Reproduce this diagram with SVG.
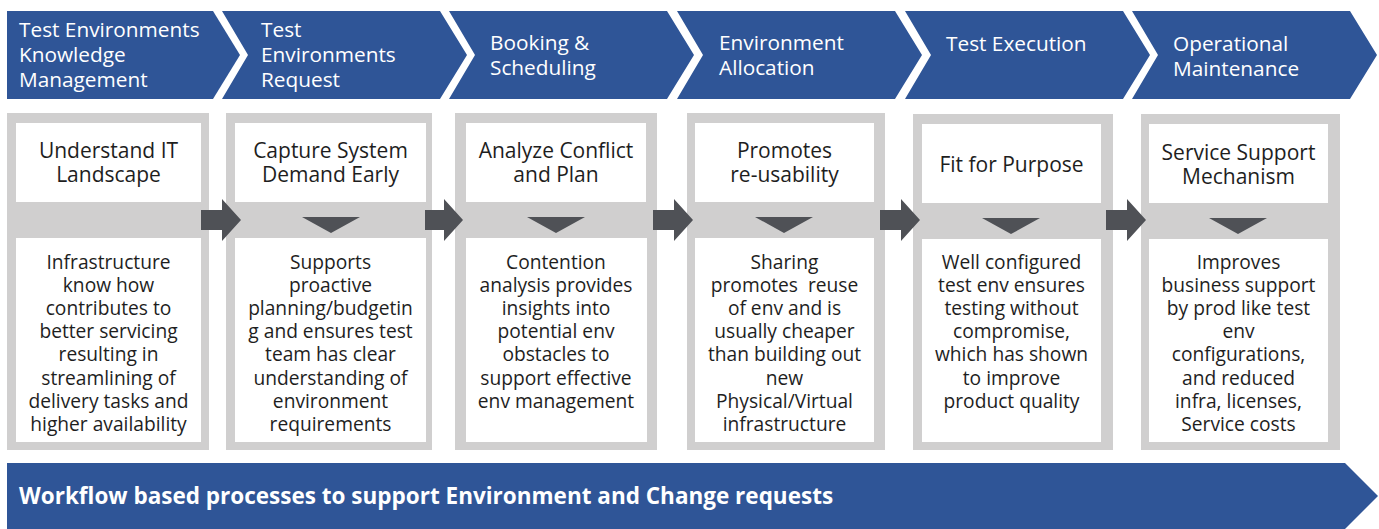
<svg xmlns="http://www.w3.org/2000/svg" width="1379" height="529" viewBox="0 0 1379 529">
  <style>
    .phase { fill: #2f5597; }
    .phase-t { font-family: "Open Sans", "Liberation Sans", sans-serif; font-size: 20.8px; fill: #ffffff; }
    .frame { fill: #d0cfcf; }
    .card { fill: #ffffff; }
    .head-t { font-family: "Open Sans", "Liberation Sans", sans-serif; font-size: 21px; fill: #1e1e1e; text-anchor: middle; }
    .body-t { font-family: "Open Sans", "Liberation Sans", sans-serif; font-size: 19.2px; fill: #1e1e1e; text-anchor: middle; }
    .flow { fill: #4f5156; }
    .banner-t { font-family: "Open Sans", "Liberation Sans", sans-serif; font-size: 22.5px; font-weight: bold; fill: #ffffff; }
  </style>

  <!-- Phase chevrons -->
  <g id="phase-1">
    <polygon class="phase" points="7,11 213,11 240,55 213,99 7,99"/>
    <text class="phase-t" x="19" y="37">Test Environments<tspan x="19" dy="25">Knowledge</tspan><tspan x="19" dy="25">Management</tspan></text>
  </g>
  <g id="phase-2">
    <polygon class="phase" points="222,11 440,11 467,55 440,99 222,99 248,55"/>
    <text class="phase-t" x="261" y="37">Test<tspan x="261" dy="25">Environments</tspan><tspan x="261" dy="25">Request</tspan></text>
  </g>
  <g id="phase-3">
    <polygon class="phase" points="449,11 667,11 694,55 667,99 449,99 475,55"/>
    <text class="phase-t" x="490" y="50">Booking &amp;<tspan x="490" dy="25">Scheduling</tspan></text>
  </g>
  <g id="phase-4">
    <polygon class="phase" points="677,11 895,11 922,55 895,99 677,99 703,55"/>
    <text class="phase-t" x="719" y="50">Environment<tspan x="719" dy="25">Allocation</tspan></text>
  </g>
  <g id="phase-5">
    <polygon class="phase" points="905,11 1123,11 1150,55 1123,99 905,99 931,55"/>
    <text class="phase-t" x="946" y="51">Test Execution</text>
  </g>
  <g id="phase-6">
    <polygon class="phase" points="1132,11 1350,11 1377,55 1350,99 1132,99 1158,55"/>
    <text class="phase-t" x="1173" y="51">Operational<tspan x="1173" dy="25">Maintenance</tspan></text>
  </g>

  <!-- Detail columns -->
  <g id="col-1">
    <rect class="frame" x="7" y="113" width="202" height="337"/>
    <rect class="card" x="16" y="123" width="185" height="79"/>
    <rect class="card" x="16" y="238" width="185" height="204"/>
    <text class="head-t" x="108.5" y="158">Understand IT<tspan x="108.5" dy="24">Landscape</tspan></text>
    <text class="body-t" x="108.5" y="269">Infrastructure<tspan x="108.5" dy="23.1">know how</tspan><tspan x="108.5" dy="23.1">contributes to</tspan><tspan x="108.5" dy="23.1">better servicing</tspan><tspan x="108.5" dy="23.1">resulting in</tspan><tspan x="108.5" dy="23.1">streamlining of</tspan><tspan x="108.5" dy="23.1">delivery tasks and</tspan><tspan x="108.5" dy="23.1">higher availability</tspan></text>
  </g>
  <g id="col-2">
    <rect class="frame" x="226" y="113" width="206" height="337"/>
    <rect class="card" x="235" y="123" width="191" height="79"/>
    <rect class="card" x="235" y="238" width="191" height="204"/>
    <polygon class="flow" points="302,217 360,217 331,233"/>
    <text class="head-t" x="330.5" y="158">Capture System<tspan x="330.5" dy="24">Demand Early</tspan></text>
    <text class="body-t" x="330.5" y="269">Supports<tspan x="330.5" dy="23.1">proactive</tspan><tspan x="330.5" dy="23.1">planning/budgetin</tspan><tspan x="330.5" dy="23.1">g and ensures test</tspan><tspan x="330.5" dy="23.1">team has clear</tspan><tspan x="330.5" dy="23.1">understanding of</tspan><tspan x="330.5" dy="23.1">environment</tspan><tspan x="330.5" dy="23.1">requirements</tspan></text>
  </g>
  <g id="col-3">
    <rect class="frame" x="455" y="113" width="202" height="337"/>
    <rect class="card" x="466" y="123" width="180" height="79"/>
    <rect class="card" x="466" y="238" width="181" height="204"/>
    <polygon class="flow" points="527,217 585,217 556,233"/>
    <text class="head-t" x="556" y="158">Analyze Conflict<tspan x="556" dy="24">and Plan</tspan></text>
    <text class="body-t" x="556" y="269">Contention<tspan x="556" dy="23.1">analysis provides</tspan><tspan x="556" dy="23.1">insights into</tspan><tspan x="556" dy="23.1">potential env</tspan><tspan x="556" dy="23.1">obstacles to</tspan><tspan x="556" dy="23.1">support effective</tspan><tspan x="556" dy="23.1">env management</tspan></text>
  </g>
  <g id="col-4">
    <rect class="frame" x="687" y="113" width="198" height="337"/>
    <rect class="card" x="695" y="123" width="179" height="79"/>
    <rect class="card" x="695" y="238" width="179" height="204"/>
    <polygon class="flow" points="755,217 813,217 784,233"/>
    <text class="head-t" x="784.5" y="158">Promotes<tspan x="784.5" dy="24">re-usability</tspan></text>
    <text class="body-t" x="784.5" y="269" xml:space="preserve">Sharing<tspan x="784.5" dy="23.1">promotes  reuse</tspan><tspan x="784.5" dy="23.1">of env and is</tspan><tspan x="784.5" dy="23.1">usually cheaper</tspan><tspan x="784.5" dy="23.1">than building out</tspan><tspan x="784.5" dy="23.1">new</tspan><tspan x="784.5" dy="23.1">Physical/Virtual</tspan><tspan x="784.5" dy="23.1">infrastructure</tspan></text>
  </g>
  <g id="col-5">
    <rect class="frame" x="913" y="114" width="200" height="336"/>
    <rect class="card" x="922" y="124" width="179" height="79"/>
    <rect class="card" x="922" y="239" width="179" height="203"/>
    <polygon class="flow" points="982,218 1040,218 1011,234"/>
    <text class="head-t" x="1011.5" y="172">Fit for Purpose</text>
    <text class="body-t" x="1011.5" y="269">Well configured<tspan x="1011.5" dy="23.1">test env ensures</tspan><tspan x="1011.5" dy="23.1">testing without</tspan><tspan x="1011.5" dy="23.1">compromise,</tspan><tspan x="1011.5" dy="23.1">which has shown</tspan><tspan x="1011.5" dy="23.1">to improve</tspan><tspan x="1011.5" dy="23.1">product quality</tspan></text>
  </g>
  <g id="col-6">
    <rect class="frame" x="1141" y="114" width="199" height="336"/>
    <rect class="card" x="1149" y="124" width="179" height="79"/>
    <rect class="card" x="1149" y="239" width="179" height="203"/>
    <polygon class="flow" points="1209,218 1267,218 1238,234"/>
    <text class="head-t" x="1238.5" y="160">Service Support<tspan x="1238.5" dy="24">Mechanism</tspan></text>
    <text class="body-t" x="1238.5" y="269">Improves<tspan x="1238.5" dy="23.1">business support</tspan><tspan x="1238.5" dy="23.1">by prod like test</tspan><tspan x="1238.5" dy="23.1">env</tspan><tspan x="1238.5" dy="23.1">configurations,</tspan><tspan x="1238.5" dy="23.1">and reduced</tspan><tspan x="1238.5" dy="23.1">infra, licenses,</tspan><tspan x="1238.5" dy="23.1">Service costs</tspan></text>
  </g>

  <!-- Block arrows linking the columns -->
  <g id="connectors">
    <polygon class="flow" points="201,210 222,210 222,199 241,220 222,241 222,230 201,230"/>
    <polygon class="flow" points="425,210 444,210 444,199 463,220 444,241 444,230 425,230"/>
    <polygon class="flow" points="653,210 674,210 674,199 693,220 674,241 674,230 653,230"/>
    <polygon class="flow" points="880,210 901,210 901,199 920,220 901,241 901,230 880,230"/>
    <polygon class="flow" points="1106,210 1127,210 1127,199 1146,220 1127,241 1127,230 1106,230"/>
  </g>

  <!-- Workflow banner -->
  <g id="banner">
    <polygon class="phase" points="7,463 1345,463 1378,496 1345,529 7,529"/>
    <text class="banner-t" x="19" y="504">Workflow based processes to support Environment and Change requests</text>
  </g>
</svg>
